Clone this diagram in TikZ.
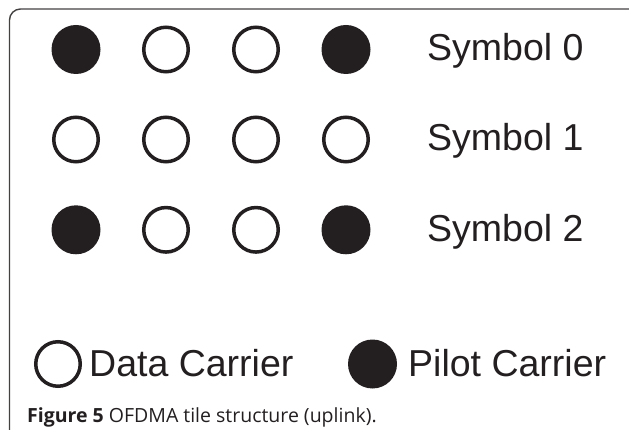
\documentclass[tikz,border=0pt]{standalone}
\usepackage{fontspec}
\setmainfont{Liberation Sans}
\newfontfamily\capfont{Open Sans}
\definecolor{ink}{HTML}{231F20}
\begin{document}
\begin{tikzpicture}[x=1pt,y=-1pt,
  pilot/.style={circle,fill=ink,draw=none,minimum size=49pt,inner sep=0pt},
  datac/.style={circle,draw=ink,line width=3.5pt,minimum size=44.5pt,inner sep=0pt},
  lbl/.style={anchor=base west,inner sep=0pt,text=ink,font=\fontsize{37.5}{40}\selectfont},
  frame/.style={draw=ink!85,line width=1.4pt,rounded corners=11pt}]
\useasboundingbox (0,0) rectangle (629,430);
\draw[frame] (9.5,440) -- (9.5,9) -- (640,9) -- (640,440);
% row 0
\node[pilot] (a0) at (76,49.5) {};
\node[datac] (b0) at (166,49.5) {};
\node[datac] (c0) at (256,49.5) {};
\node[pilot] (d0) at (346,49.5) {};
\node[lbl] (s0) at (427,61) {Symbol 0};
% row 1
\node[datac] (a1) at (76,139.5) {};
\node[datac] (b1) at (166,139.5) {};
\node[datac] (c1) at (256,139.5) {};
\node[datac] (d1) at (346,139.5) {};
\node[lbl] (s1) at (427,151) {Symbol 1};
% row 2
\node[pilot] (a2) at (76,229.8) {};
\node[datac] (b2) at (166,229.8) {};
\node[datac] (c2) at (256,229.8) {};
\node[pilot] (d2) at (346,229.8) {};
\node[lbl] (s2) at (427,241.3) {Symbol 2};
% legend
\node[datac] (ld) at (58,364) {};
\node[lbl] (ldt) at (89,376.7) {Data Carrier};
\node[pilot] (lp) at (372.5,364) {};
\node[lbl] (lpt) at (408,376.7) {Pilot Carrier};
% caption
\node[anchor=base west,inner sep=0pt,text=ink,font=\capfont\fontsize{19.5}{22}\selectfont] (cap) at (27,422) {\textbf{Figure 5} OFDMA tile structure (uplink).};
\end{tikzpicture}
\end{document}
